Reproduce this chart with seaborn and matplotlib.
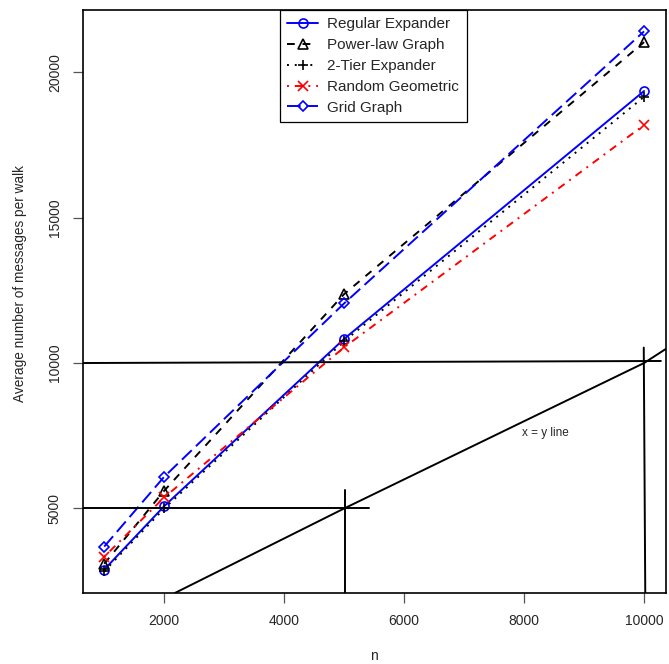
import pandas as pd
import seaborn as sns
import matplotlib.pyplot as plt

# average messages per walk
n = [1000, 2000, 5000, 10000]
regular_expander = [2900, 5080, 10830, 19350]
power_law = [3100, 5610, 12370, 21030]
two_tier = [2840, 5000, 10750, 19150]
random_geometric = [3340, 5380, 10540, 18180]
grid_graph = [3690, 6090, 12050, 21400]

names = ["Regular Expander", "Power-law Graph", "2-Tier Expander",
         "Random Geometric", "Grid Graph"]
series = [regular_expander, power_law, two_tier, random_geometric, grid_graph]
colors = ["#0000ff", "black", "black", "#ff0000", "#0000ff"]
markers = ["o", "^", "+", "x", "D"]
dashes = [None, (4, 4), (1, 3), (1, 3, 4, 3), (7, 3)]

# hand drawn guide lines
xy_line_x = [2180, 5000, 10000, 10360]
xy_line_y = [2096, 5000, 10000, 10480]
guides = [
    ([640, 5420], [5000, 5000]),
    ([640, 10280], [10000, 10070]),
    ([5012, 5012], [5640, 2096]),
    ([9995, 10020], [10530, 2096]),
]

sns.set_style("ticks")
plt.rcParams["font.family"] = ["Liberation Sans", "DejaVu Sans"]

fig = plt.figure(figsize=(6.69, 6.64), dpi=100)
ax = fig.add_axes([0.1235, 0.107, 0.8715, 0.8785])

for name, vals, c, m, d in zip(names, series, colors, markers, dashes):
    df = pd.DataFrame({"n": n, "msgs": vals})
    sns.lineplot(data=df, x="n", y="msgs", ax=ax, color=c, marker=m,
                 markersize=6.5 if m != "D" else 5.5,
                 markerfacecolor="none", markeredgecolor=c, markeredgewidth=1.2,
                 lw=1.4, label=name)
    line = ax.lines[-1]
    if d is not None:
        line.set_dashes(d)

ax.plot(xy_line_x, xy_line_y, color="black", lw=1.4)
for gx, gy in guides:
    ax.plot(gx, gy, color="black", lw=1.4)
ax.text(8360, 7600, "x = y line", fontsize=8.5, ha="center", va="center")

ax.set_xlim(640, 10360)
ax.set_ylim(2096, 22148)
ax.set_xticks([2000, 4000, 6000, 8000, 10000])
ax.set_yticks([5000, 10000, 15000, 20000])
ax.tick_params(direction="out", length=7, width=0.9, color="#555555",
               labelsize=10, pad=8)
for lab in ax.get_yticklabels():
    lab.set_rotation(90)
    lab.set_va("center")
for s in ax.spines.values():
    s.set_visible(True)
    s.set_color("black")
    s.set_linewidth(1.2)

ax.set_xlabel("n", fontsize=10, labelpad=15)
ax.set_ylabel("Average number of messages per walk", fontsize=9.8)
ax.yaxis.set_label_coords(-0.095, 0.53)

leg = ax.legend(loc="upper left", bbox_to_anchor=(0.338, 1.0), borderaxespad=0,
                fancybox=False, edgecolor="black", framealpha=1, fontsize=11,
                handlelength=2.0, handletextpad=0.6, labelspacing=0.45,
                borderpad=0.5)
leg.get_frame().set_linewidth(0.9)

plt.savefig("out.png", dpi=100)
